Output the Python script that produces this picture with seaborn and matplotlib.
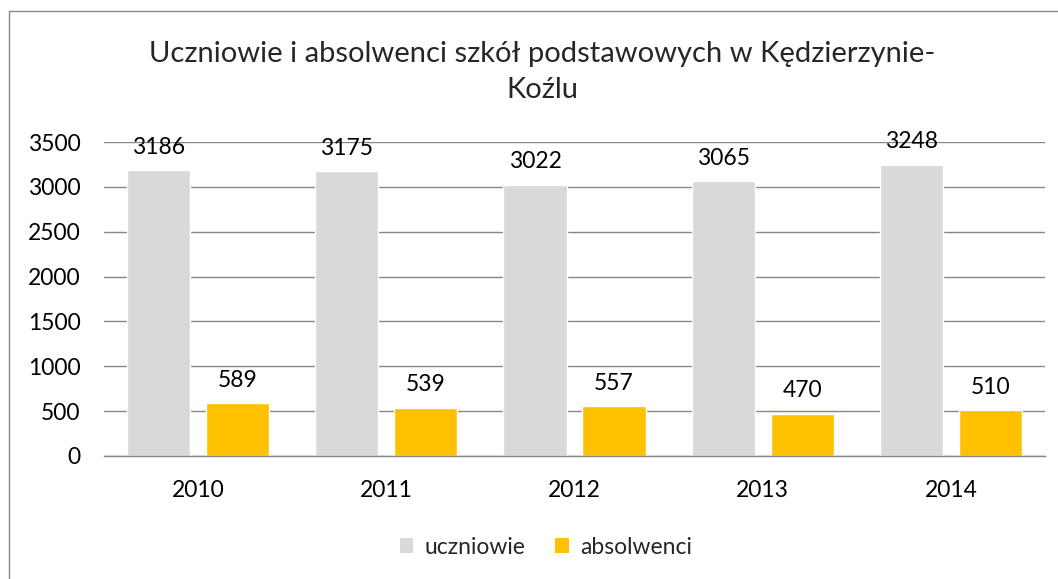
import pandas as pd
import matplotlib
matplotlib.use("Agg")
import matplotlib.pyplot as plt
import seaborn as sns
from matplotlib.lines import Line2D
from matplotlib.patches import Patch

# -------------------- DATA --------------------
years = ["2010", "2011", "2012", "2013", "2014"]
uczniowie = [3186, 3175, 3022, 3065, 3248]
absolwenci = [589, 539, 557, 470, 510]
series_names = ["uczniowie", "absolwenci"]
colors = ["#D9D9D9", "#FFC000"]

df = pd.DataFrame({
    "rok": years * 2,
    "liczba": uczniowie + absolwenci,
    "seria": [series_names[0]] * len(years) + [series_names[1]] * len(years),
})

# -------------------- PLOT --------------------
sns.set_style("white")
plt.rcParams["font.family"] = ["Lato", "DejaVu Sans"]
FS = 16.5

fig = plt.figure(figsize=(10.58, 5.79), dpi=100)
ax = fig.add_axes([104 / 1058, 1 - 456 / 579, (1045 - 104) / 1058, (456 - 142) / 579])

sns.barplot(data=df, x="rok", y="liczba", hue="seria", palette=colors,
            width=0.84, gap=0.2, ax=ax, legend=False, saturation=1)

for cont in ax.containers:
    ax.bar_label(cont, fmt="%d", padding=9, fontsize=FS, color="#000000")

ax.set_ylim(0, 3500)
ax.set_yticks(range(0, 3501, 500))
ax.set_xlim(-0.5, 4.5)
ax.yaxis.grid(True, color="#868686", linewidth=1)
ax.set_axisbelow(True)
for s in ["left", "right", "top"]:
    ax.spines[s].set_visible(False)
ax.spines["bottom"].set_color("#868686")
ax.spines["bottom"].set_linewidth(1)
ax.tick_params(axis="both", length=0, labelsize=FS, colors="#000000")
ax.tick_params(axis="y", pad=17)
ax.tick_params(axis="x", pad=17)
ax.set_xlabel("")
ax.set_ylabel("")

fig.text(542 / 1058, 1 - 72 / 579,
         "Uczniowie i absolwenci szkół podstawowych w Kędzierzynie-\nKoźlu",
         ha="center", va="center", fontsize=21, linespacing=1.5)

handles = [Patch(facecolor=c, edgecolor="none") for c in colors]
fig.legend(handles, series_names, loc="center", bbox_to_anchor=(546 / 1058, 1 - 547 / 579),
           ncol=2, frameon=False, fontsize=FS, handlelength=0.6, handleheight=0.6,
           columnspacing=1.3, handletextpad=0.5)

# chart frame (only left and top edges visible)
fig.add_artist(Line2D([8.5 / 1058, 8.5 / 1058], [0, 1 - 11 / 579], color="#868686", lw=1))
fig.add_artist(Line2D([8.5 / 1058, 1], [1 - 11 / 579, 1 - 11 / 579], color="#868686", lw=1))

fig.savefig("out.png", dpi=100)
